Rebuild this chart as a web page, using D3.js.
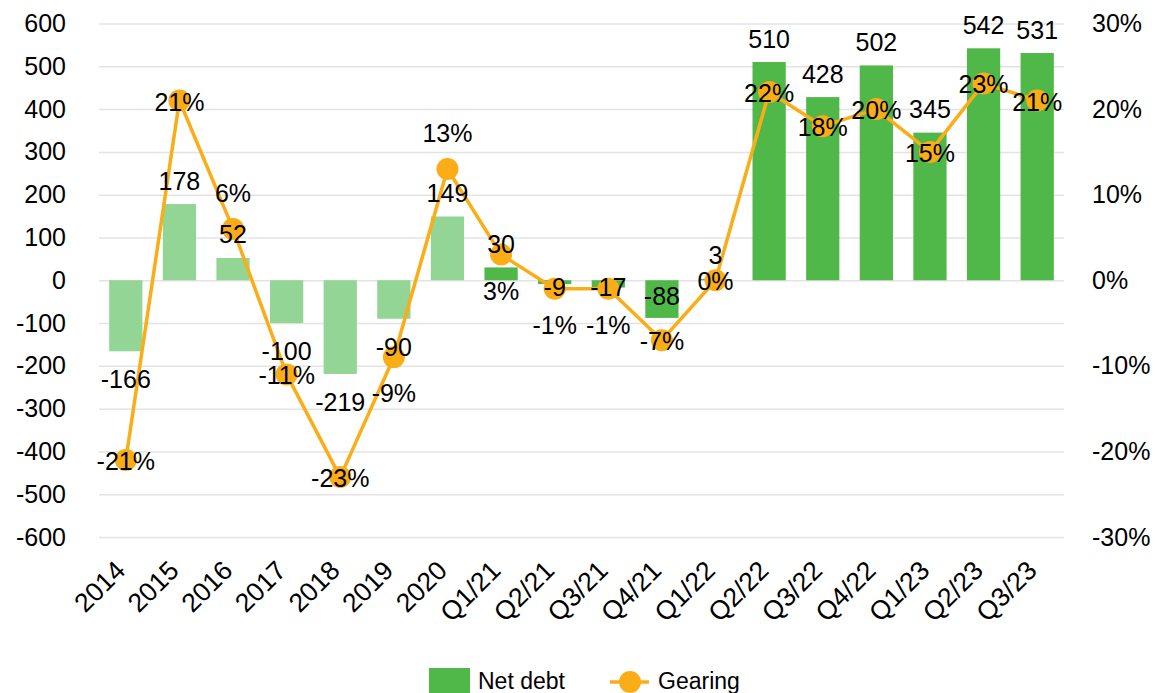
<!DOCTYPE html>
<html>
<head>
<meta charset="utf-8">
<script src="https://cdn.jsdelivr.net/npm/d3@7"></script>
<style>
  html, body { margin: 0; padding: 0; background: #fff; }
  svg { display: block; font-family: "Liberation Sans", Arial, sans-serif; }
</style>
</head>
<body>
<svg id="chart" width="1155" height="693"></svg>
<script>
// Periods on the x axis
const categories = ["2014", "2015", "2016", "2017", "2018", "2019", "2020",
  "Q1/21", "Q2/21", "Q3/21", "Q4/21", "Q1/22", "Q2/22", "Q3/22", "Q4/22",
  "Q1/23", "Q2/23", "Q3/23"];
// Net debt (bars, left axis)
const netDebt = [-166, 178, 52, -100, -219, -90, 149, 30, -9, -17, -88, 3,
  510, 428, 502, 345, 542, 531];
// Gearing in percent (line, right axis)
const gearing = [-21, 21, 6, -11, -23, -9, 13, 3, -1, -1, -7, 0,
  22, 18, 20, 15, 23, 21];
// Annual periods use the lighter bar shade
const annualPeriods = ["2014", "2015", "2016", "2017", "2018", "2019", "2020"];
// Axis ticks
const leftTicks = [-600, -500, -400, -300, -200, -100, 0, 100, 200, 300, 400, 500, 600];
const rightTicks = [-30, -20, -10, 0, 10, 20, 30];

// Where each gearing label sits relative to its marker
const gearingLabelPlace = ["c", "c", "a", "c", "c", "b", "a", "b", "b", "b", "c", "c",
  "c", "c", "c", "c", "c", "c"];

const COLORS = { dark: "#50B848", light: "#93D595", line: "#FBAD18", grid: "#e3e3e3" };
const FONT = 25;

const svg = d3.select("#chart");
const plotLeft = 99, plotRight = 1064, plotTop = 23.5, plotBottom = 537;

const x = d3.scaleBand().domain(categories).range([plotLeft, plotRight])
  .paddingInner(0.38).paddingOuter(0.19);
const y = d3.scaleLinear().domain([-600, 600]).range([plotBottom, plotTop]);
const y2 = d3.scaleLinear().domain([-30, 30]).range([plotBottom, plotTop]);
const cx = c => x(c) + x.bandwidth() / 2;

// Gridlines
const grid = svg.append("g").attr("transform", `translate(${plotLeft},0)`)
  .call(d3.axisLeft(y).tickValues(leftTicks).tickSize(-(plotRight - plotLeft)).tickFormat(""));
grid.select(".domain").remove();
grid.selectAll("line").attr("stroke", COLORS.grid).attr("stroke-width", 1.5);

// Left axis labels
const yAxis = svg.append("g").attr("transform", `translate(66,0)`)
  .call(d3.axisLeft(y).tickValues(leftTicks).tickSize(0).tickPadding(0).tickFormat(d => String(d)));
yAxis.select(".domain").remove();
yAxis.selectAll("text").attr("font-size", FONT).attr("fill", "#000")
  .attr("font-family", "Liberation Sans, Arial, sans-serif");

// Right axis labels
const y2Axis = svg.append("g").attr("transform", `translate(1092,0)`)
  .call(d3.axisRight(y2).tickValues(rightTicks).tickSize(0).tickPadding(0).tickFormat(d => d + "%"));
y2Axis.select(".domain").remove();
y2Axis.selectAll("text").attr("font-size", FONT).attr("fill", "#000")
  .attr("font-family", "Liberation Sans, Arial, sans-serif");

// X axis labels, rotated
const xAxis = svg.append("g").attr("transform", `translate(0,548)`)
  .call(d3.axisBottom(x).tickSize(0).tickPadding(0));
xAxis.select(".domain").remove();
xAxis.selectAll("text").attr("font-size", 26.5).attr("fill", "#000")
  .attr("font-family", "Liberation Sans, Arial, sans-serif")
  .attr("text-anchor", "end")
  .attr("dy", "0.7em")
  .attr("transform", "translate(-12,11) rotate(-45)");

// Bars
const rows = categories.map((c, i) => ({ c, v: netDebt[i], g: gearing[i], place: gearingLabelPlace[i] }));
svg.append("g").selectAll("rect").data(rows).join("rect")
  .attr("x", d => x(d.c))
  .attr("width", x.bandwidth())
  .attr("y", d => y(Math.max(0, d.v)))
  .attr("height", d => Math.abs(y(d.v) - y(0)))
  .attr("fill", d => annualPeriods.includes(d.c) ? COLORS.light : COLORS.dark);

// Gearing line and markers
const line = d3.line().x(d => cx(d.c)).y(d => y2(d.g));
svg.append("path").datum(rows).attr("d", line)
  .attr("fill", "none").attr("stroke", COLORS.line).attr("stroke-width", 3.5)
  .attr("stroke-linejoin", "round");
svg.append("g").selectAll("circle").data(rows).join("circle")
  .attr("cx", d => cx(d.c)).attr("cy", d => y2(d.g)).attr("r", 11)
  .attr("fill", COLORS.line);

// Net debt labels
const labels = svg.append("g").attr("font-size", FONT).attr("fill", "#000")
  .attr("text-anchor", "middle").attr("dominant-baseline", "central");
const quarterNegatives = v => v < 0 && v > -90;
labels.selectAll("text.debt").data(rows).join("text").attr("class", "debt")
  .attr("x", d => cx(d.c))
  .attr("y", d => {
    if (d.v >= 0) return y(d.v) - 23.5;
    if (!annualPeriods.includes(d.c) && quarterNegatives(d.v))
      return Math.max((y(0) + y(d.v)) / 2 - 3, y(0) + 6.5);
    return y(d.v) + 28;
  })
  .text(d => d.v);

// Gearing labels
labels.selectAll("text.gear").data(rows).join("text").attr("class", "gear")
  .attr("x", d => cx(d.c))
  .attr("y", d => y2(d.g) + (d.place === "a" ? -36 : d.place === "b" ? 36 : 1))
  .text(d => d.g + "%");

// Legend
const legend = svg.append("g");
legend.append("rect").attr("x", 429).attr("y", 668).attr("width", 41).attr("height", 30)
  .attr("fill", COLORS.dark);
legend.append("text").attr("x", 478).attr("y", 689).attr("font-size", 23).text("Net debt");
legend.append("line").attr("x1", 610).attr("x2", 649).attr("y1", 682).attr("y2", 682)
  .attr("stroke", COLORS.line).attr("stroke-width", 3.5);
legend.append("circle").attr("cx", 630).attr("cy", 682).attr("r", 11).attr("fill", COLORS.line);
legend.append("text").attr("x", 658).attr("y", 689).attr("font-size", 23).text("Gearing");
</script>
</body>
</html>
